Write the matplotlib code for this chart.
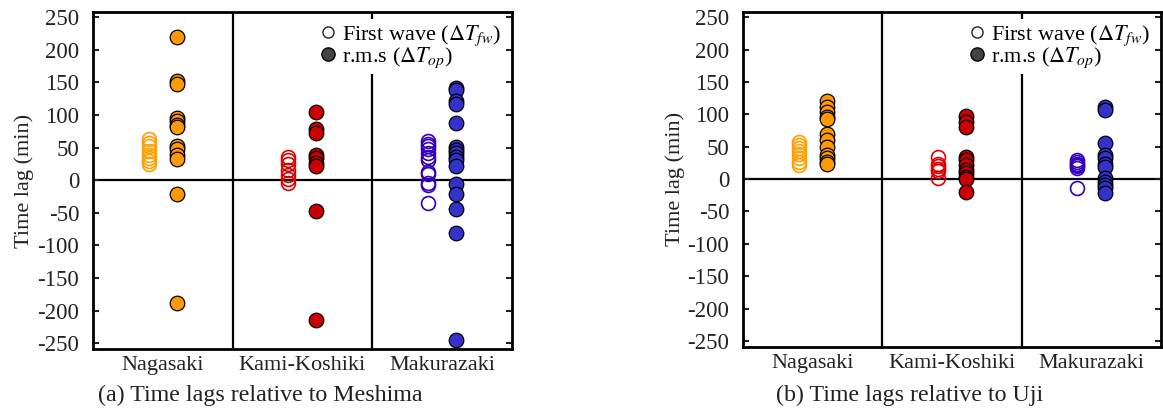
import numpy as np
import matplotlib
matplotlib.use("Agg")
import matplotlib.pyplot as plt
from matplotlib.lines import Line2D

plt.rcParams["font.family"] = ["Liberation Serif", "DejaVu Serif"]
plt.rcParams["mathtext.fontset"] = "stix"

STATIONS = ["Nagasaki", "Kami-Koshiki", "Makurazaki"]
CAPTIONS = ["(a) Time lags relative to Meshima", "(b) Time lags relative to Uji"]

# (a) relative to Meshima
meshima_fw = [
    [63, 57, 53, 45, 39, 34, 29, 24],
    [36, 31, 24, 15, 8, 1, -5],
    [60, 56, 52, 47, 42, 36, 31, 13, 9, -5, -8, -35],
]
meshima_op = [
    [220, 152, 148, 95, 90, 85, 81, 53, 48, 38, 33, -21, -188],
    [104, 78, 72, 39, 34, 26, 21, -48, -215],
    [142, 138, 121, 117, 88, 51, 46, 41, 36, 31, 22, -6, -22, -45, -81, -246],
]

# (b) relative to Uji
uji_fw = [
    [58, 53, 48, 43, 38, 32, 26, 22],
    [34, 24, 20, 16, 12, 2],
    [30, 27, 24, 22, 20, 17, -14],
]
uji_op = [
    [121, 111, 103, 96, 93, 70, 60, 50, 37, 32, 27, 24],
    [97, 88, 81, 34, 29, 22, 14, 9, 4, 0, -20],
    [111, 107, 55, 37, 32, 24, 19, 1, -4, -9, -14, -22],
]

FILL_COLORS = ["#ff9900", "#cc0000", "#3333cc"]
OPEN_COLORS = ["#ffa000", "#dd0000", "#3300bb"]
YTICKS = [250, 200, 150, 100, 50, 0, -50, -100, -150, -200, -250]

fig = plt.figure(figsize=(11.63, 4.12), dpi=100)
rects = [[0.080, 0.153, 0.360, 0.818], [0.639, 0.158, 0.359, 0.813]]
cap_x = [0.224, 0.782]

for k, (fw, op) in enumerate([(meshima_fw, meshima_op), (uji_fw, uji_op)]):
    ax = fig.add_axes(rects[k])
    for i in range(3):
        ax.plot(np.full(len(fw[i]), i + 0.4), fw[i], "o", ms=10, mfc="none",
                mec=OPEN_COLORS[i], mew=1.2, zorder=3)
        ax.plot(np.full(len(op[i]), i + 0.6), op[i], "o", ms=10.5, mfc=FILL_COLORS[i],
                mec="black", mew=0.9, zorder=3)
    ax.axhline(0, color="black", lw=1.6, zorder=1)
    for xv in [1, 2]:
        ax.axvline(xv, color="black", lw=1.6, zorder=1)
    ax.set_xlim(0, 3)
    ax.set_ylim(-259, 258)
    ax.set_yticks(YTICKS)
    ax.set_yticklabels([str(t) for t in YTICKS])
    ax.set_xticks([0.5, 1.5, 2.5])
    ax.set_xticklabels(STATIONS)
    ax.tick_params(axis="x", length=0, pad=5, labelsize=16, colors="#222222")
    ax.tick_params(axis="y", direction="in", length=4, width=1.5, right=True,
                   labelsize=16.5, colors="#222222", pad=10)
    for s in ax.spines.values():
        s.set_linewidth(2)
    ax.set_ylabel("Time lag (min)", fontsize=16, color="#222222", labelpad=2)

    handles = [
        Line2D([], [], ls="none", marker="o", ms=8, mfc="white", mec="#222222", mew=1),
        Line2D([], [], ls="none", marker="o", ms=9.5, mfc="#444444", mec="black", mew=1),
    ]
    labels = [r"First wave ($\Delta T_{fw}$)", r"r.m.s ($\Delta T_{op}$)"]
    leg = ax.legend(handles, labels, loc="upper right", bbox_to_anchor=(1.0, 1.0),
                    frameon=True, fancybox=False, fontsize=16, handletextpad=0.2,
                    handlelength=0.8, labelspacing=-0.1, borderaxespad=0.3,
                    borderpad=0.2, alignment="left")
    leg.get_frame().set_facecolor("white")
    leg.get_frame().set_edgecolor("none")
    leg.get_frame().set_alpha(1)
    leg.set_zorder(5)

    fig.text(cap_x[k], 0.04, CAPTIONS[k], ha="center", va="center", fontsize=17.3,
             color="#222222")

fig.savefig("out.png", dpi=100)
